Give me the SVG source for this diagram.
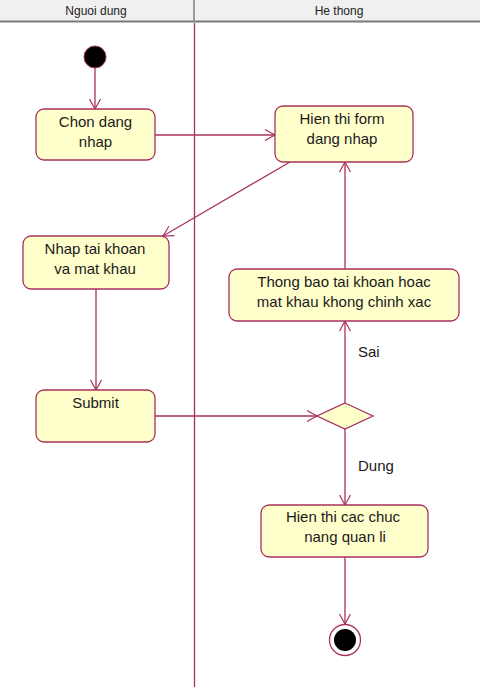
<svg xmlns="http://www.w3.org/2000/svg" width="480" height="687" viewBox="0 0 480 687">
<defs>
<style>
.box{fill:#ffffcc;stroke:#a8325e;stroke-width:1.3}
.t{font-family:"Liberation Sans",Arial,sans-serif;font-size:15px;fill:#1a1a1a;text-anchor:middle}
.h{font-family:"Liberation Sans",Arial,sans-serif;font-size:12px;fill:#222;text-anchor:middle}
.c{fill:none;stroke:#a8325e;stroke-width:1.3}
</style>
<marker id="arr" markerWidth="14" markerHeight="14" refX="12" refY="7" orient="auto" markerUnits="userSpaceOnUse">
<path d="M2,1.5 L12,7 L2,12.5" fill="none" stroke="#a8325e" stroke-width="1.2"/>
<circle cx="12" cy="7" r="1.2" fill="#a8325e"/>
</marker>
</defs>
<rect width="480" height="687" fill="#ffffff"/>
<g id="header">
<rect x="0" y="0" width="480" height="21" fill="#f0f0f0"/>
<line x1="0" y1="21.5" x2="480" y2="21.5" stroke="#7a7a7a" stroke-width="2"/>
<line x1="194" y1="0" x2="194" y2="21" stroke="#9a9a9a" stroke-width="2"/>
<text class="h" x="96" y="15">Nguoi dung</text>
<text class="h" x="339" y="15">He thong</text>
</g>
<line x1="194.5" y1="23" x2="194.5" y2="687" stroke="#a8325e" stroke-width="1.3"/>
<g id="connectors">
<line class="c" x1="95" y1="68" x2="95" y2="109" marker-end="url(#arr)"/>
<line class="c" x1="155" y1="135" x2="275" y2="135" marker-end="url(#arr)"/>
<line class="c" x1="290" y1="162" x2="163" y2="236" marker-end="url(#arr)"/>
<line class="c" x1="96" y1="289" x2="96" y2="390" marker-end="url(#arr)"/>
<line class="c" x1="155" y1="416" x2="317" y2="416" marker-end="url(#arr)"/>
<line class="c" x1="345" y1="403" x2="345" y2="321" marker-end="url(#arr)"/>
<line class="c" x1="345" y1="269" x2="345" y2="162" marker-end="url(#arr)"/>
<line class="c" x1="345" y1="429" x2="345" y2="505" marker-end="url(#arr)"/>
<line class="c" x1="345" y1="557" x2="345" y2="624" marker-end="url(#arr)"/>
<text class="t" x="358" y="357" text-anchor="start" style="text-anchor:start">Sai</text>
<text class="t" x="358" y="471" style="text-anchor:start">Dung</text>
</g>
<g id="start">
<circle cx="95" cy="57" r="11" fill="#000" stroke="#a8325e" stroke-width="1"/>
</g>
<g id="chon">
<rect class="box" x="36" y="109" width="119" height="51" rx="8"/>
<text class="t" x="95.5" y="127">Chon dang</text>
<text class="t" x="95.5" y="147">nhap</text>
</g>
<g id="hienthiform">
<rect class="box" x="275" y="106" width="138" height="56" rx="8"/>
<text class="t" x="342" y="124">Hien thi form</text>
<text class="t" x="342" y="144">dang nhap</text>
</g>
<g id="nhap">
<rect class="box" x="23" y="236" width="146" height="53" rx="8"/>
<text class="t" x="95" y="254">Nhap tai khoan</text>
<text class="t" x="95" y="274">va mat khau</text>
</g>
<g id="thongbao">
<rect class="box" x="229" y="269" width="230" height="52" rx="8"/>
<text class="t" x="344" y="287">Thong bao tai khoan hoac</text>
<text class="t" x="344" y="307">mat khau khong chinh xac</text>
</g>
<g id="submit">
<rect class="box" x="36" y="390" width="119" height="52" rx="8"/>
<text class="t" x="95.5" y="408">Submit</text>
</g>
<g id="decision">
<polygon class="box" points="345,403 373,416 345,429 317,416"/>
</g>
<g id="chucnang">
<rect class="box" x="261" y="505" width="167" height="52" rx="8"/>
<text class="t" x="343" y="522">Hien thi cac chuc</text>
<text class="t" x="345" y="542">nang quan li</text>
</g>
<g id="end">
<circle cx="345" cy="640" r="15.5" fill="#fff" stroke="#a8325e" stroke-width="1.3"/>
<circle cx="345" cy="640" r="11" fill="#000"/>
</g>
</svg>
